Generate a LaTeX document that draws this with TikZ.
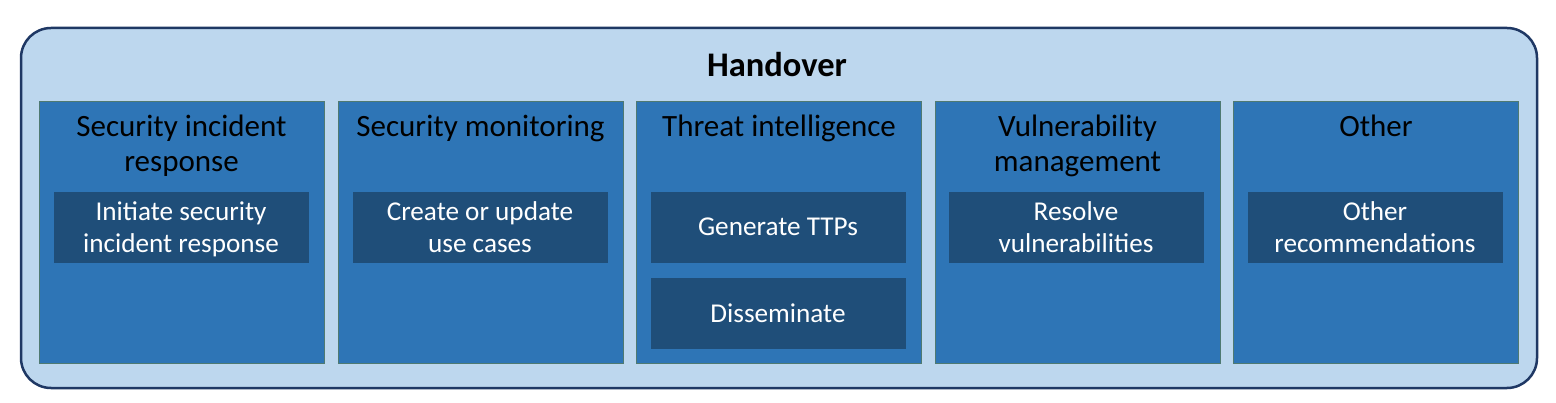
\documentclass[tikz,border=0pt]{standalone}
\usepackage{fontspec}
\setmainfont{Carlito}
\definecolor{outerfill}{HTML}{BDD7EE}
\definecolor{outerline}{HTML}{1F3864}
\definecolor{colfill}{HTML}{2E75B6}
\definecolor{colline}{HTML}{4F7A72}
\definecolor{taskfill}{HTML}{1F4E79}
\tikzset{
  outerbox/.style={draw=outerline, fill=outerfill, line width=2.5pt, rounded corners=30pt, minimum width=1516pt, minimum height=360pt, inner sep=0pt, outer sep=0pt},
  colbox/.style={draw=colline, fill=colfill, line width=0.8pt, minimum width=285pt, minimum height=262pt, inner sep=0pt, outer sep=0pt},
  taskbox/.style={fill=taskfill, minimum width=255pt, minimum height=71pt, inner sep=0pt, outer sep=0pt},
  maintitle/.style={anchor=base, inner sep=0pt, font={\fontsize{34.5}{40}\bfseries\selectfont}, text=black},
  coltitle/.style={anchor=base, inner sep=0pt, align=center, font={\fontsize{31}{35}\selectfont}, text=black},
  tasktext/.style={anchor=base, inner sep=0pt, align=center, font={\fontsize{27.2}{32}\selectfont}, text=white}
}
\begin{document}
\begin{tikzpicture}[x=1pt,y=-1pt]
\useasboundingbox (0,0) rectangle (1556,403);
\node[outerbox] (outer) at (779,208) {};
\node[maintitle] (handover) at (777,76.7) {Handover};
% columns
\node[colbox] (c1) at (181.5,232) {};
\node[colbox] (c2) at (480.5,232) {};
\node[colbox] (c3) at (779,232) {};
\node[colbox] (c4) at (1077.5,232) {};
\node[colbox] (c5) at (1376,232) {};
% column titles (base = last line baseline)
\node[coltitle] (t1) at (181.5,172) {Security incident\\response};
\node[coltitle] (t2) at (480.5,137) {Security monitoring};
\node[coltitle] (t3) at (779,137) {Threat intelligence};
\node[coltitle] (t4) at (1077.5,172) {Vulnerability\\management};
\node[coltitle] (t5) at (1376,137) {Other};
% task boxes
\node[taskbox] (k1) at (181,227.5) {};
\node[taskbox] (k2) at (480,227.5) {};
\node[taskbox] (k3a) at (778,227.5) {};
\node[taskbox] (k3b) at (778,314) {};
\node[taskbox] (k4) at (1076,227.5) {};
\node[taskbox] (k5) at (1375,227.5) {};
% task texts
\node[tasktext] (x1) at ([yshift=-25.2pt]k1.center) {Initiate security\\incident response};
\node[tasktext] (x2) at ([yshift=-25.2pt]k2.center) {Create or update\\use cases};
\node[tasktext] (x3a) at ([yshift=-8.5pt]k3a.center) {Generate TTPs};
\node[tasktext] (x3b) at ([yshift=-8.5pt]k3b.center) {Disseminate};
\node[tasktext] (x4) at ([yshift=-25.2pt]k4.center) {Resolve\\vulnerabilities};
\node[tasktext] (x5) at ([yshift=-25.2pt]k5.center) {Other\\recommendations};
\end{tikzpicture}
\end{document}
